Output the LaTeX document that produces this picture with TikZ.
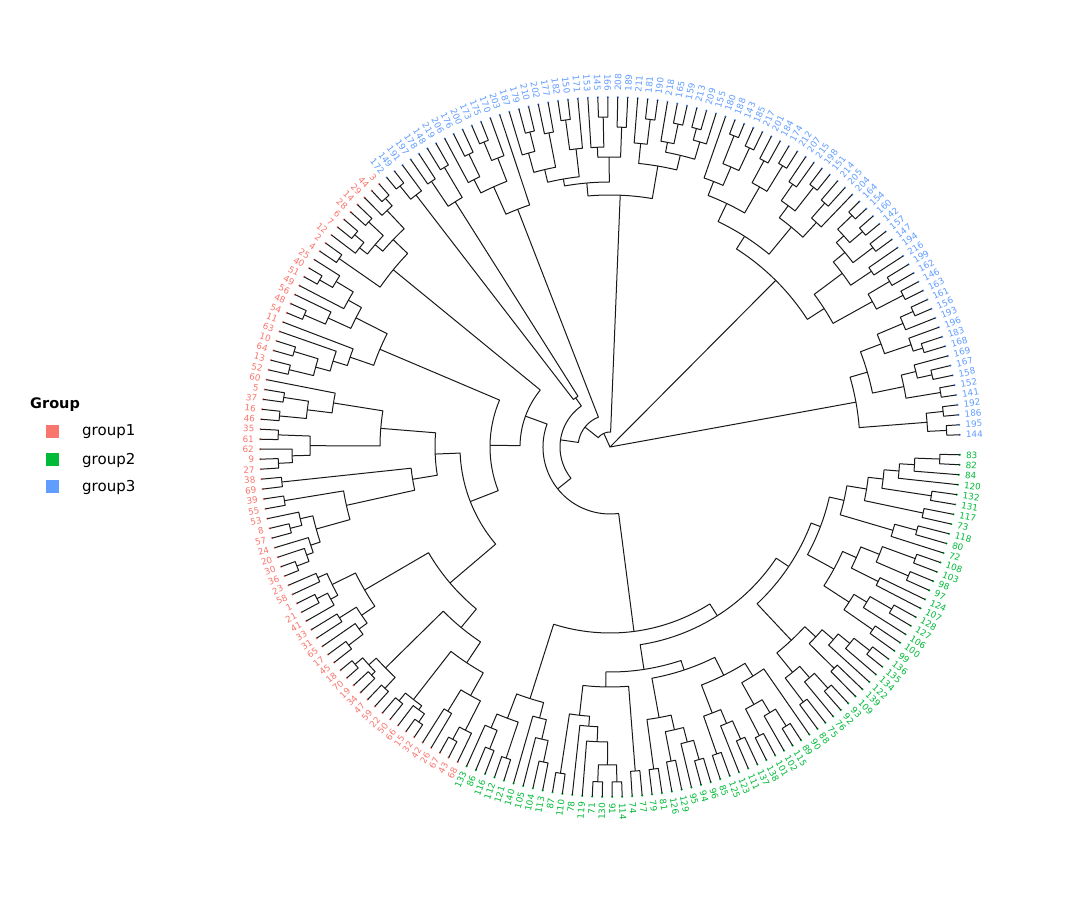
\documentclass[tikz,border=0pt]{standalone}
\usepackage{fontspec}
\setmainfont{DejaVu Sans}
\definecolor{grpone}{HTML}{F8766D}
\definecolor{grptwo}{HTML}{00BA38}
\definecolor{grpthree}{HTML}{619CFF}
\tikzset{
    branch/.style={black!90,line width=1pt,line join=round},
    tiplab/.style={inner sep=0pt,font=\fontsize{8.8}{9}\selectfont},
    legbox/.style={minimum size=13pt,inner sep=0pt},
    legtxt/.style={anchor=west,inner sep=0pt,font=\fontsize{15}{17}\selectfont},
}
\newcommand\tipgap{1.63636}
\newcommand\tipstart{2.0}
\newcommand\tipr{350}
% leaf k of the circle
\newcommand\Lf[1]{\pgfmathparse{\tipstart+(#1-1)*\tipgap}\xdef\xa{\pgfmathresult}\xdef\xr{\tipr}}
% inner node: radius, first child, second child
\newcommand\Nd[3]{\begingroup
  #2\let\la\xa\let\lr\xr
  #3\let\ra\xa\let\rr\xr
  \draw[branch] (\la:\lr pt) -- (\la:#1pt) arc[start angle=\la,end angle=\ra,radius=#1pt] -- (\ra:\rr pt);
  \pgfmathparse{(\la+\ra)/2}\xdef\xa{\pgfmathresult}\xdef\xr{#1}%
  \endgroup}

\begin{document}
\begin{tikzpicture}[x=1pt,y=1pt]
\useasboundingbox (0,0) rectangle (1080,900);

\begin{scope}[shift={(610,453)}]
% tips
\foreach \lab [count=\k] in {144,195,186,192,141,152,158,167,169,168,183,196,193,156,161,163,146,162,199,216,194,147,157,142,160,154,164,204,205,214,151,198,215,207,212,174,184,201,217,185,143,188,180,155,209,213,159,165,218,190,181,211,189,208,166,145,153,171,150,182,177,202,210,179,187,203,170,175,173,200,176,206,219,148,178,197,191,149,172,
3,44,29,14,28,6,7,12,2,4,25,40,51,49,56,48,54,11,63,10,64,13,52,60,5,37,16,46,35,61,62,9,27,38,69,39,55,53,8,57,24,20,30,36,23,58,1,21,41,33,31,65,17,45,18,70,19,34,47,59,22,50,66,15,32,42,26,67,43,68,
133,86,116,112,121,140,105,104,113,87,110,78,119,71,130,91,114,74,77,79,81,126,129,95,94,96,85,125,123,111,137,138,101,102,115,89,90,88,75,76,92,93,109,139,122,134,135,136,99,100,106,127,128,107,124,97,98,103,108,72,80,118,73,117,131,132,120,84,82,83}{
  \pgfmathsetmacro\ang{\tipstart+(\k-1)*\tipgap}
  \ifnum\k<80 \def\gc{grpthree}\else\ifnum\k<150 \def\gc{grpone}\else\def\gc{grptwo}\fi\fi
  \fill[\gc] (\ang:\tipr pt) circle[radius=1.2pt];
  \pgfmathtruncatemacro\flip{(\ang>90 && \ang<270) ? 1 : 0}
  \ifnum\flip=1
    \node[tiplab,text=\gc,anchor=east,rotate=\ang-180] (t\k) at (\ang:356pt) {\lab};
  \else
    \node[tiplab,text=\gc,anchor=west,rotate=\ang] (t\k) at (\ang:356pt) {\lab};
  \fi
}
% tree
\Nd{0.01}{%
  \Nd{0.02}{%
    \Nd{250}{\Nd{318}{\Nd{337}{\Lf{1}}{\Lf{2}}}{\Nd{335}{\Lf{3}}{\Lf{4}}}}{\Nd{268}{\Nd{300}{\Nd{335}{\Lf{5}}{\Lf{6}}}{\Nd{315}{\Nd{330}{\Lf{7}}{\Lf{8}}}{\Lf{9}}}}{\Nd{290}{\Nd{318}{\Nd{328}{\Lf{10}}{\Lf{11}}}{\Lf{12}}}{\Nd{318}{\Lf{13}}{\Nd{332}{\Lf{14}}{\Lf{15}}}}}}%
  }{%
    \Nd{235}{%
      \Nd{255}{\Nd{300}{\Nd{330}{\Lf{16}}{\Lf{17}}}{\Nd{325}{\Lf{18}}{\Lf{19}}}}{\Nd{290}{\Nd{315}{\Lf{20}}{\Lf{21}}}{\Nd{305}{\Nd{330}{\Lf{22}}{\Lf{23}}}{\Nd{315}{\Nd{332}{\Lf{24}}{\Lf{25}}}{\Nd{335}{\Lf{26}}{\Lf{27}}}}}}%
    }{%
      \Nd{250}{\Nd{285}{\Nd{305}{\Lf{28}}{\Nd{325}{\Lf{29}}{\Lf{30}}}}{\Nd{300}{\Nd{330}{\Lf{31}}{\Lf{32}}}{\Nd{320}{\Lf{33}}{\Lf{34}}}}}{\Nd{270}{\Nd{300}{\Nd{330}{\Lf{35}}{\Lf{36}}}{\Nd{325}{\Lf{37}}{\Lf{38}}}}{\Nd{285}{\Nd{305}{\Nd{330}{\Lf{39}}{\Lf{40}}}{\Nd{335}{\Lf{41}}{\Lf{42}}}}{\Lf{43}}}}%
    }%
  }%
}{%
  \Nd{15}{%
    \Nd{252}{%
      \Nd{285}{\Nd{300}{\Nd{318}{\Lf{44}}{\Nd{330}{\Lf{45}}{\Lf{46}}}}{\Nd{310}{\Nd{330}{\Lf{47}}{\Lf{48}}}{\Lf{49}}}}{\Nd{305}{\Nd{330}{\Lf{50}}{\Lf{51}}}{\Lf{52}}}%
    }{%
      \Nd{265}{\Nd{290}{\Nd{320}{\Lf{53}}{\Lf{54}}}{\Nd{300}{\Nd{330}{\Lf{55}}{\Lf{56}}}{\Lf{57}}}}{\Nd{272}{\Nd{300}{\Lf{58}}{\Nd{330}{\Lf{59}}{\Lf{60}}}}{\Nd{285}{\Nd{320}{\Lf{61}}{\Lf{62}}}{\Nd{305}{\Nd{325}{\Lf{63}}{\Lf{64}}}{\Lf{65}}}}}%
    }%
  }{%
    \Nd{32}{%
      \Nd{255}{\Lf{66}}{\Nd{285}{\Nd{310}{\Lf{67}}{\Nd{330}{\Lf{68}}{\Lf{69}}}}{\Nd{300}{\Nd{325}{\Lf{70}}{\Lf{71}}}{\Lf{72}}}}%
    }{%
      \Nd{50}{%
        \Nd{60}{\Nd{290}{\Nd{325}{\Lf{73}}{\Lf{74}}}{\Nd{320}{\Lf{75}}{\Lf{76}}}}{\Nd{318}{\Lf{77}}{\Nd{335}{\Lf{78}}{\Lf{79}}}}%
      }{%
        \Nd{67}{%
          \Nd{90}{%
            \Nd{280}{\Nd{300}{\Nd{325}{\Nd{335}{\Lf{80}}{\Lf{81}}}{\Lf{82}}}{\Nd{310}{\Nd{330}{\Lf{83}}{\Lf{84}}}{\Nd{320}{\Nd{332}{\Lf{85}}{\Lf{86}}}{\Lf{87}}}}}{\Nd{330}{\Lf{88}}{\Lf{89}}}%
          }{%
            \Nd{120}{%
              \Nd{250}{\Nd{285}{\Nd{300}{\Nd{320}{\Lf{90}}{\Nd{335}{\Lf{91}}{\Lf{92}}}}{\Lf{93}}}{\Nd{310}{\Lf{94}}{\Nd{333}{\Lf{95}}{\Lf{96}}}}}{\Nd{275}{\Lf{97}}{\Nd{290}{\Lf{98}}{\Nd{305}{\Nd{330}{\Lf{99}}{\Lf{100}}}{\Nd{330}{\Lf{101}}{\Lf{102}}}}}}%
            }{%
              \Nd{150}{%
                \Nd{175}{\Nd{230}{\Nd{280}{\Lf{103}}{\Nd{305}{\Nd{330}{\Lf{104}}{\Lf{105}}}{\Nd{332}{\Lf{106}}{\Lf{107}}}}}{\Nd{300}{\Nd{332}{\Lf{108}}{\Lf{109}}}{\Nd{318}{\Lf{110}}{\Nd{332}{\Lf{111}}{\Lf{112}}}}}}{\Nd{200}{\Nd{330}{\Lf{113}}{\Lf{114}}}{\Nd{270}{\Nd{330}{\Lf{115}}{\Lf{116}}}{\Nd{305}{\Nd{318}{\Lf{117}}{\Nd{330}{\Lf{118}}{\Lf{119}}}}{\Nd{315}{\Lf{120}}{\Nd{322}{\Lf{121}}{\Nd{335}{\Lf{122}}{\Lf{123}}}}}}}}%
              }{%
                \Nd{210}{\Nd{284}{\Nd{310}{\Nd{320}{\Lf{124}}{\Lf{125}}}{\Nd{318}{\Nd{330}{\Lf{126}}{\Lf{127}}}{\Lf{128}}}}{\Nd{300}{\Nd{320}{\Lf{129}}{\Lf{130}}}{\Nd{310}{\Lf{131}}{\Nd{328}{\Lf{132}}{\Lf{133}}}}}}{\Nd{234}{\Nd{315}{\Nd{325}{\Nd{335}{\Lf{134}}{\Lf{135}}}{\Nd{330}{\Lf{136}}{\Lf{137}}}}{\Nd{330}{\Lf{138}}{\Lf{139}}}}{\Nd{259}{\Nd{320}{\Nd{330}{\Lf{140}}{\Lf{141}}}{\Nd{325}{\Lf{142}}{\Nd{335}{\Lf{143}}{\Lf{144}}}}}{\Nd{285}{\Nd{310}{\Lf{145}}{\Lf{146}}}{\Nd{318}{\Nd{332}{\Lf{147}}{\Lf{148}}}{\Lf{149}}}}}}%
              }%
            }%
          }%
        }{%
          \Nd{186}{%
            \Nd{264}{\Nd{290}{\Nd{305}{\Lf{150}}{\Nd{325}{\Lf{151}}{\Lf{152}}}}{\Nd{328}{\Lf{153}}{\Lf{154}}}}{\Nd{280}{\Lf{155}}{\Nd{300}{\Lf{156}}{\Nd{322}{\Lf{157}}{\Lf{158}}}}}%
          }{%
            \Nd{200}{%
              \Nd{225}{\Nd{240}{\Nd{270}{\Nd{330}{\Lf{159}}{\Lf{160}}}{\Nd{280}{\Lf{161}}{\Nd{295}{\Lf{162}}{\Nd{318}{\Nd{335}{\Lf{163}}{\Lf{164}}}{\Nd{335}{\Lf{165}}{\Lf{166}}}}}}}{\Nd{325}{\Lf{167}}{\Lf{168}}}}{\Nd{235}{\Nd{275}{\Nd{325}{\Lf{169}}{\Lf{170}}}{\Nd{290}{\Nd{320}{\Lf{171}}{\Lf{172}}}{\Nd{305}{\Lf{173}}{\Nd{325}{\Lf{174}}{\Lf{175}}}}}}{\Nd{255}{\Nd{285}{\Nd{325}{\Lf{176}}{\Lf{177}}}{\Nd{300}{\Lf{178}}{\Nd{320}{\Lf{179}}{\Lf{180}}}}}{\Nd{270}{\Nd{295}{\Nd{325}{\Lf{181}}{\Lf{182}}}{\Nd{310}{\Lf{183}}{\Nd{330}{\Lf{184}}{\Lf{185}}}}}{\Lf{186}}}}}%
            }{%
              \Nd{215}{\Nd{265}{\Nd{290}{\Nd{320}{\Lf{187}}{\Lf{188}}}{\Nd{305}{\Lf{189}}{\Nd{325}{\Lf{190}}{\Lf{191}}}}}{\Nd{280}{\Nd{315}{\Lf{192}}{\Lf{193}}}{\Nd{295}{\Lf{194}}{\Nd{310}{\Lf{195}}{\Nd{330}{\Lf{196}}{\Lf{197}}}}}}}{\Nd{225}{\Nd{255}{\Nd{285}{\Nd{320}{\Lf{198}}{\Lf{199}}}{\Nd{300}{\Lf{200}}{\Nd{325}{\Lf{201}}{\Lf{202}}}}}{\Nd{270}{\Nd{300}{\Lf{203}}{\Lf{204}}}{\Nd{290}{\Nd{325}{\Lf{205}}{\Lf{206}}}{\Nd{325}{\Lf{207}}{\Lf{208}}}}}}{\Nd{240}{\Nd{295}{\Lf{209}}{\Nd{318}{\Lf{210}}{\Lf{211}}}}{\Nd{260}{\Nd{320}{\Lf{212}}{\Lf{213}}}{\Nd{275}{\Nd{325}{\Lf{214}}{\Lf{215}}}{\Nd{290}{\Lf{216}}{\Nd{305}{\Lf{217}}{\Nd{330}{\Lf{218}}{\Lf{219}}}}}}}}}%
            }%
          }%
        }%
      }%
    }%
  }%
}
\end{scope}

% legend
\node[anchor=west,inner sep=0pt,font=\bfseries\fontsize{14.5}{17}\selectfont] (legtitle) at (30,495) {Group};
\node[legbox,fill=grpone] (k1) at (52,468) {};
\node[legbox,fill=grptwo] (k2) at (52,440) {};
\node[legbox,fill=grpthree] (k3) at (52,413) {};
\node[legtxt] (g1) at (82,468) {group1};
\node[legtxt] (g2) at (82,440) {group2};
\node[legtxt] (g3) at (82,413) {group3};
\end{tikzpicture}
\end{document}
